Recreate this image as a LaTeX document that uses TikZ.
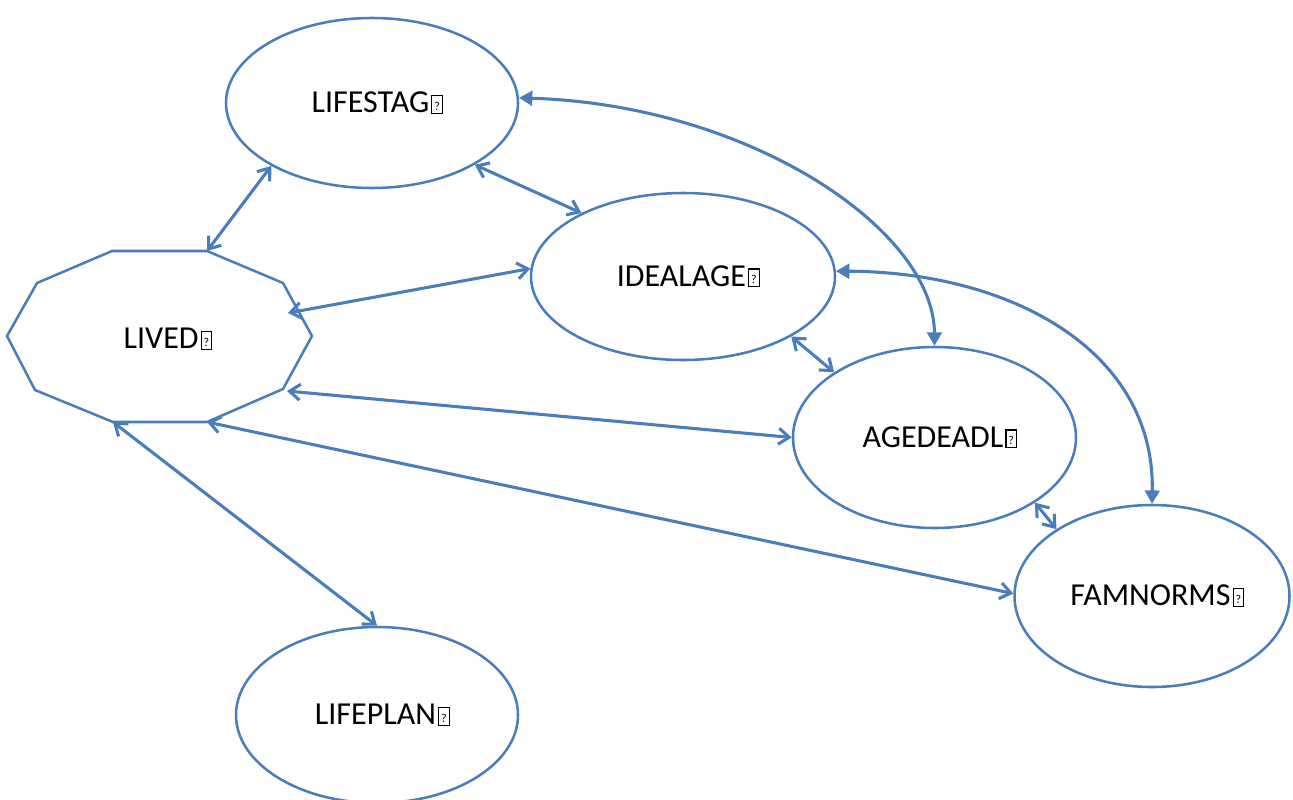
\documentclass[tikz,border=0pt]{standalone}
\usepackage{fontspec}
\setmainfont{Carlito}
\usetikzlibrary{shapes.geometric,arrows.meta}
\definecolor{edge}{RGB}{74,126,187}
\newcommand\qbx{\kern1.5pt{\setlength{\fboxsep}{0pt}\setlength{\fboxrule}{0.9pt}\fbox{\makebox[7pt]{\rule{0pt}{12.5pt}\raisebox{2pt}{\fontsize{9}{9}\selectfont ?}}}}}
\tikzset{
  oval/.style 2 args={ellipse, draw=edge, line width=1.9pt, fill=white, inner sep=0pt,
    minimum width=#1*0.75pt, minimum height=#2*0.75pt,
    font=\fontsize{24}{28}\selectfont},
  link/.style={draw=edge, line width=2.3pt, {Straight Barb[length=8pt,width=12pt]}-{Straight Barb[length=8pt,width=12pt]}},
  curvelink/.style={draw=edge, line width=2.3pt, {Triangle[length=10pt,width=11pt]}-{Triangle[length=10pt,width=11pt]}},
}
\begin{document}
\begin{tikzpicture}[x=0.75pt,y=-0.75pt]
\useasboundingbox (0,0) rectangle (1293,800);
% ellipses
\node[oval={292}{170}] (LIFESTAG) at (372,103) {\kern8pt LIFESTAG\qbx};
\node[oval={304}{167}] (IDEALAGE) at (683,276.5) {\kern8pt IDEALAGE\qbx};
\node[oval={283}{181}] (AGEDEADL) at (934.5,437.5) {\kern8pt AGEDEADL\qbx};
\node[oval={275}{182}] (FAMNORMS) at (1152,596) {\kern8pt FAMNORMS\qbx};
\node[oval={282}{176}] (LIFEPLAN) at (377,715) {\kern8pt LIFEPLAN\qbx};
% octagon LIVED
\coordinate (vA) at (112,251);
\coordinate (vB) at (207,251);
\coordinate (vC) at (283,283);
\coordinate (vD) at (312,336);
\coordinate (vE) at (283,389);
\coordinate (vF) at (207,422);
\coordinate (vG) at (113,422);
\coordinate (vH) at (35,390);
\coordinate (vI) at (7,336);
\coordinate (vJ) at (37,283);
\draw[draw=edge, line width=1.9pt, line join=miter, fill=white]
  (vA) -- (vB) -- (vC) -- (vD) -- (vE) -- (vF) -- (vG) -- (vH) -- (vI) -- (vJ) -- cycle;
\node[font=\fontsize{24}{28}\selectfont] (LIVED) at (168,339) {LIVED\qbx};
\coordinate (pCD) at (288,313);
\coordinate (pE) at (287,391);
% straight connectors
\draw[link] (LIFESTAG.212) -- (vB);
\draw[link] (LIFESTAG.-31) -- (IDEALAGE.148);
\draw[link] (pCD) -- (IDEALAGE.177);
\draw[link] (IDEALAGE.-29) -- (AGEDEADL.147);
\draw[link] (pE) -- (AGEDEADL.180);
\draw[link] (vF) -- (FAMNORMS.179);
\draw[link] (vG) -- (LIFEPLAN.90);
\draw[link] (AGEDEADL.-33) -- (FAMNORMS.145);
% curved connectors
\draw[curvelink] (LIFESTAG.2) .. controls (750,105) and (934,230) .. (AGEDEADL.90);
\draw[curvelink] (IDEALAGE.2) .. controls (1010,272) and (1155,350) .. (FAMNORMS.90);
\end{tikzpicture}
\end{document}
